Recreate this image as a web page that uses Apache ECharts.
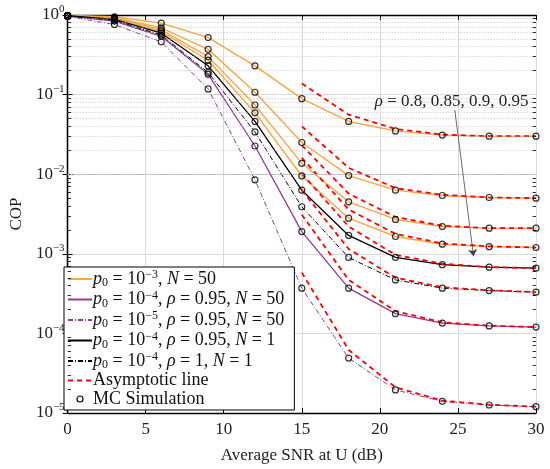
<!DOCTYPE html>
<html>
<head>
<meta charset="utf-8">
<script src="https://cdn.jsdelivr.net/npm/echarts@6/dist/echarts.min.js"></script>
<style>
    html, body { margin: 0; padding: 0; background: #fff; }
    #main { width: 550px; height: 469px; }
</style>
</head>
<body>
<div id="main"></div>
<script>
// 横轴 (dB)
var snr = [0, 3, 6, 9, 12, 15, 18, 21, 24, 27, 30];
var snrAsym = [15, 18, 21, 24, 27, 30];

// p0 = 1e-3, N = 50, rho = 0.8 / 0.85 / 0.9 / 0.95
var cop80 = [0.99, 0.95, 0.79, 0.52, 0.23, 0.089, 0.046, 0.035, 0.031, 0.030, 0.030];
var cop85 = [0.98, 0.93, 0.69, 0.37, 0.107, 0.025, 0.0096, 0.0063, 0.0054, 0.0051, 0.0050];
var cop90 = [0.98, 0.92, 0.65, 0.30, 0.074, 0.0137, 0.0045, 0.0027, 0.0022, 0.0021, 0.0021];
var cop95 = [0.98, 0.90, 0.62, 0.27, 0.059, 0.0095, 0.0028, 0.00165, 0.00132, 0.00123, 0.0012];
// 其余曲线
var copP4N50 = [0.97, 0.84, 0.54, 0.18, 0.0226, 0.0019, 0.00037, 0.000177, 0.000135, 0.000124, 0.00012];
var copP5N50 = [0.96, 0.76, 0.46, 0.118, 0.0085, 0.00037, 0.000049, 0.0000195, 0.000014, 0.0000126, 0.000012];
var copP4N1 = [0.98, 0.88, 0.59, 0.23, 0.046, 0.0063, 0.0017, 0.0009, 0.00073, 0.00068, 0.00066];
var copP4R1N1 = [0.97, 0.86, 0.56, 0.19, 0.034, 0.0039, 0.0009, 0.00047, 0.00037, 0.000345, 0.00033];

// 渐近线
var asym80 = [0.138, 0.056, 0.037, 0.0315, 0.030, 0.030];
var asym85 = [0.040, 0.012, 0.0067, 0.0055, 0.0051, 0.0050];
var asym90 = [0.023, 0.0057, 0.0029, 0.00225, 0.0021, 0.0021];
var asym95 = [0.016, 0.0036, 0.00178, 0.00135, 0.00124, 0.0012];
var asymP4N50 = [0.0031, 0.00047, 0.00019, 0.000138, 0.000125, 0.00012];
var asymP5N50 = [0.00058, 0.000062, 0.000021, 0.0000143, 0.0000127, 0.000012];
var asymP4N1 = [0.0102, 0.0022, 0.00097, 0.00075, 0.00068, 0.00066];
var asymP4R1N1 = [0.0063, 0.00115, 0.0005, 0.00038, 0.000348, 0.00033];

var legendNames = ['A', 'B', 'C', 'D', 'E', 'F', 'G'];
var legendText = {
    A: '{i|p}{sb|0}{t| = 10}{sp|−3}{t|, }{i|N}{t| = 50}',
    B: '{i|p}{sb|0}{t| = 10}{sp|−4}{t|, }{i|ρ}{t| = 0.95, }{i|N}{t| = 50}',
    C: '{i|p}{sb|0}{t| = 10}{sp|−5}{t|, }{i|ρ}{t| = 0.95, }{i|N}{t| = 50}',
    D: '{i|p}{sb|0}{t| = 10}{sp|−4}{t|, }{i|ρ}{t| = 0.95, }{i|N}{t| = 1}',
    E: '{i|p}{sb|0}{t| = 10}{sp|−4}{t|, }{i|ρ}{t| = 1, }{i|N}{t| = 1}',
    F: '{t|Asymptotic line}',
    G: '{t|MC Simulation}'
};

var serif = 'Liberation Serif';
var orange = '#F5A742', purple = '#8C3D92';

function toPairs(xs, ys) {
    var arr = [];
    for (var i = 0; i < xs.length; i++) {
        arr.push([xs[i], ys[i]]);
    };
    return arr;
};

function curve(name, xs, ys, color, width, dash, z) {
    return {
        name: name,
        type: 'line',
        data: toPairs(xs, ys),
        symbol: 'none',
        z: z,
        lineStyle: { color: color, width: width, type: dash },
        itemStyle: { color: color }
    };
};

// 次网格线
var minorVals = [];
for (var e = -5; e < 0; e++) {
    for (var k = 2; k <= 9; k++) {
        minorVals.push(k * Math.pow(10, e));
    };
};
var minorGrid = [], minorTicks = [];
for (var i = 0; i < minorVals.length; i++) {
    minorGrid.push({ yAxis: minorVals[i] });
    minorTicks.push([{ coord: [0, minorVals[i]] }, { coord: [0.22, minorVals[i]] }]);
    minorTicks.push([{ coord: [29.78, minorVals[i]] }, { coord: [30, minorVals[i]] }]);
};

var textRich = {
    t: { fontFamily: serif, fontSize: 18, color: '#111', lineHeight: 20 },
    i: { fontFamily: serif, fontSize: 18, fontStyle: 'italic', color: '#111', lineHeight: 20 },
    sp: { fontFamily: serif, fontSize: 12, color: '#111', lineHeight: 10, verticalAlign: 'top' },
    sb: { fontFamily: serif, fontSize: 12, color: '#111', lineHeight: 10, verticalAlign: 'bottom' }
};

var series = [
    {
        name: 'grid', type: 'line', data: [], z: 1, silent: true,
        markLine: {
            silent: true, symbol: 'none', label: { show: false },
            lineStyle: { color: '#b8b8b8', type: [1, 2], width: 0.8 },
            data: minorGrid
        }
    },
    {
        name: 'ticks', type: 'line', data: [], z: 6, silent: true,
        markLine: {
            silent: true, symbol: 'none', label: { show: false },
            lineStyle: { color: '#000', type: 'solid', width: 0.8 },
            data: minorTicks
        }
    },
    curve('A', snr, cop80, orange, 1.4, 'solid', 3),
    curve('A', snr, cop85, orange, 1.4, 'solid', 3),
    curve('A', snr, cop90, orange, 1.4, 'solid', 3),
    curve('A', snr, cop95, orange, 1.4, 'solid', 3),
    curve('B', snr, copP4N50, purple, 1.3, 'solid', 3),
    curve('C', snr, copP5N50, purple, 1, [5, 2, 1, 2], 3),
    curve('D', snr, copP4N1, '#000', 1.3, 'solid', 3),
    curve('E', snr, copP4R1N1, '#000', 1, [5, 2, 1, 2], 3),
    curve('F', snrAsym, asym80, '#ff0000', 1.8, [5, 4], 4),
    curve('F', snrAsym, asym85, '#ff0000', 1.8, [5, 4], 4),
    curve('F', snrAsym, asym90, '#ff0000', 1.8, [5, 4], 4),
    curve('F', snrAsym, asym95, '#ff0000', 1.8, [5, 4], 4),
    curve('F', snrAsym, asymP4N50, '#ff0000', 1.8, [5, 4], 4),
    curve('F', snrAsym, asymP5N50, '#ff0000', 1.8, [5, 4], 4),
    curve('F', snrAsym, asymP4N1, '#ff0000', 1.8, [5, 4], 4),
    curve('F', snrAsym, asymP4R1N1, '#ff0000', 1.8, [5, 4], 4)
];

// 仿真点
var mcData = [];
var allCurves = [cop80, cop85, cop90, cop95, copP4N50, copP5N50, copP4N1, copP4R1N1];
for (var c = 0; c < allCurves.length; c++) {
    mcData = mcData.concat(toPairs(snr, allCurves[c]));
};
series.push({
    name: 'G',
    type: 'scatter',
    data: mcData,
    symbol: 'circle',
    symbolSize: 6,
    z: 5,
    itemStyle: { color: 'rgba(255,255,255,0)', borderColor: '#000', borderWidth: 1.2 }
});

// rho 标注
series.push({
    name: 'note', type: 'line', data: [], z: 6, silent: true,
    markLine: {
        silent: true, symbol: ['none', 'arrow'], symbolSize: 7, label: { show: false },
        lineStyle: { color: '#444', type: 'solid', width: 0.8 },
        data: [[{ coord: [24.8, 0.064] }, { coord: [26.0, 0.00093] }]]
    },
    markPoint: {
        silent: true, symbol: 'rect', symbolSize: 1,
        itemStyle: { color: 'rgba(0,0,0,0)' },
        label: {
            show: true, position: 'inside',
            formatter: '{i|ρ}{t| = 0.8, 0.85, 0.9, 0.95}',
            rich: {
                t: { fontFamily: serif, fontSize: 17, color: '#222' },
                i: { fontFamily: serif, fontSize: 17, fontStyle: 'italic', color: '#222' }
            }
        },
        data: [{ coord: [24.6, 0.082] }]
    }
});

function logLabel(value) {
    var exp = Math.round(Math.log(value) / Math.LN10);
    return '{b|10}{s|' + String(exp).replace('-', '−') + '}';
};

// 图例: 线条项隐藏符号
var legendData = [];
for (var i = 0; i < legendNames.length; i++) {
    if (legendNames[i] == 'G') {
        legendData.push({
            name: 'G',
            icon: 'path://M0,0M24,14M15,7A3,3,0,1,1,9,7A3,3,0,1,1,15,7Z',
            itemStyle: { opacity: 1, color: 'rgba(255,255,255,0)', borderColor: '#000', borderWidth: 1.2 }
        });
    } else {
        legendData.push({ name: legendNames[i], itemStyle: { opacity: 0 } });
    };
};

var chart = echarts.init(document.getElementById('main'));
chart.setOption({
    animation: false,
    backgroundColor: '#fff',
    grid: { left: 57, right: 14, top: 15, bottom: 53 },
    legend: {
        data: legendData,
        orient: 'vertical',
        left: 64, top: 267,
        itemWidth: 24, itemHeight: 14, itemGap: 0.5,
        padding: [2, 10, 2, 3],
        backgroundColor: '#fff',
        borderColor: '#000',
        borderWidth: 1,
        selectedMode: false,
        formatter: function (name) { return legendText[name]; },
        textStyle: { fontFamily: serif, fontSize: 18, padding: [0, 0, 0, -4], rich: textRich }
    },
    xAxis: [{
        type: 'value', min: 0, max: 30, interval: 5,
        name: 'Average SNR at U (dB)', nameLocation: 'middle', nameGap: 34,
        nameTextStyle: { fontFamily: serif, fontSize: 17, color: '#222' },
        axisLine: { lineStyle: { color: '#000', width: 1.3 } },
        axisTick: { inside: true, length: 5, lineStyle: { color: '#000' } },
        axisLabel: { fontFamily: serif, fontSize: 17, color: '#222', margin: 8 },
        splitLine: { show: true, lineStyle: { color: '#d9d9d9', width: 1 } }
    }, {
        type: 'value', min: 0, max: 30, interval: 5, position: 'top',
        axisLine: { lineStyle: { color: '#000', width: 1.3 } },
        axisTick: { inside: true, length: 5, lineStyle: { color: '#000' } },
        axisLabel: { show: false },
        splitLine: { show: false }
    }],
    yAxis: [{
        type: 'log', logBase: 10, min: 0.00001, max: 1,
        name: 'COP', nameLocation: 'middle', nameGap: 36,
        nameTextStyle: { fontFamily: serif, fontSize: 17, color: '#222' },
        axisLine: { show: true, lineStyle: { color: '#000', width: 1.3 } },
        axisTick: { show: true, inside: true, length: 5, lineStyle: { color: '#000' } },
        axisLabel: {
            margin: 3,
            formatter: logLabel,
            rich: {
                b: { fontFamily: serif, fontSize: 17, color: '#222', lineHeight: 22 },
                s: { fontFamily: serif, fontSize: 11, color: '#222', lineHeight: 10, verticalAlign: 'top' }
            }
        },
        splitLine: { show: true, lineStyle: { color: '#d9d9d9', width: 1 } }
    }, {
        type: 'log', logBase: 10, min: 0.00001, max: 1, position: 'right',
        axisLine: { show: true, lineStyle: { color: '#000', width: 1.3 } },
        axisTick: { show: true, inside: true, length: 5, lineStyle: { color: '#000' } },
        axisLabel: { show: false },
        splitLine: { show: false }
    }],
    series: series
});
</script>
</body>
</html>
